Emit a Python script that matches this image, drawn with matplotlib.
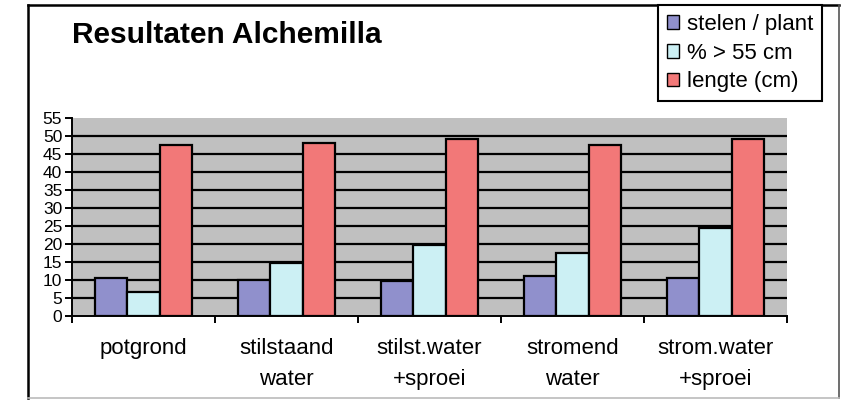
import numpy as np
import matplotlib
matplotlib.use('Agg')
import matplotlib.pyplot as plt
from matplotlib.patches import Patch
from matplotlib.lines import Line2D

plt.rcParams['font.family'] = ['Liberation Sans', 'DejaVu Sans']

categories = ['potgrond', 'stilstaand\nwater', 'stilst.water\n+sproei', 'stromend\nwater', 'strom.water\n+sproei']
stelen = [10.5, 10.0, 9.7, 11.2, 10.6]
procent = [6.6, 14.6, 19.7, 17.4, 24.4]
lengte = [47.5, 48.1, 49.3, 47.5, 49.3]
series_names = ['stelen / plant', '% > 55 cm', 'lengte (cm)']
colors = ['#9090cc', '#ccf0f4', '#f27878']

fig = plt.figure(figsize=(8.58, 4.0), dpi=100)
ax = fig.add_axes([72/858, 1-316/400, (787-72)/858, (316-118)/400])
ax.set_facecolor('#c0c0c0')

x = np.arange(len(categories))
w = 0.224
for i, vals in enumerate([stelen, procent, lengte]):
    ax.bar(x + (i-1)*w, vals, w, color=colors[i], edgecolor='black', linewidth=1.6, zorder=3)

ax.set_xlim(-0.5, 4.5)
ax.set_ylim(0, 55)
ax.set_yticks(np.arange(0, 56, 5))
for yv in np.arange(5, 55, 5):
    ax.axhline(yv, color='black', lw=1.6, zorder=1)
ax.set_xticks(np.arange(-0.5, 5, 1))
ax.set_xticklabels([])
ax.set_xticks(x, minor=True)
ax.set_xticklabels(categories, minor=True, fontsize=16, linespacing=1.6)
ax.tick_params(axis='x', which='minor', length=0, pad=16)
ax.tick_params(axis='x', which='major', length=5, width=1.4, direction='out')
ax.tick_params(axis='y', length=5, width=1.4, labelsize=12.5, pad=2)
ax.spines['top'].set_visible(False)
ax.spines['right'].set_visible(False)
ax.spines['left'].set_linewidth(1.4)
ax.spines['bottom'].set_linewidth(1.4)

fig.text(72/858, 1-35/400, 'Resultaten Alchemilla', fontsize=21.5, fontweight='bold', va='center', ha='left')

handles = [Patch(facecolor=c, edgecolor='black', linewidth=1.0) for c in colors]
leg = fig.legend(handles, series_names, loc='upper left', bbox_to_anchor=(658/858, 1-5/400),
                 fontsize=16, frameon=True, fancybox=False, edgecolor='black', framealpha=1,
                 handlelength=0.55, handleheight=0.55, handletextpad=0.35, labelspacing=0.35,
                 borderpad=0.4, borderaxespad=0)
leg.get_frame().set_linewidth(1.5)

# outer chart frame
fig.add_artist(Line2D([28/858, 28/858], [2/400, 1-5/400], color='black', lw=1.8, transform=fig.transFigure))
fig.add_artist(Line2D([28/858, 839/858], [1-5/400, 1-5/400], color='black', lw=1.8, transform=fig.transFigure))
fig.add_artist(Line2D([839/858, 839/858], [2/400, 1-5/400], color='#555555', lw=1.2, transform=fig.transFigure))
fig.add_artist(Line2D([28/858, 839/858], [2/400, 2/400], color='#bbbbbb', lw=1.2, transform=fig.transFigure))

fig.savefig('out.png', dpi=100)
